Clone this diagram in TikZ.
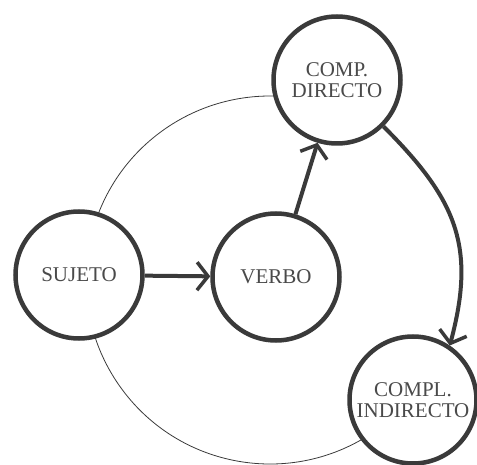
\documentclass[tikz,border=0pt]{standalone}
\usepackage{fontspec}
\setmainfont{Liberation Serif}
\usetikzlibrary{arrows.meta}
\definecolor{ink}{HTML}{3A3A3A}
\definecolor{txt}{HTML}{4A4A4A}
\begin{document}
\begin{tikzpicture}[x=1pt,y=-1pt,
  bubble/.style={circle, draw=ink, line width=4.5pt, fill=white, minimum size=127pt,
    inner sep=0pt, text=txt, font=\fontsize{21}{21}\selectfont, align=center},
  link/.style={draw=ink, line width=4pt, -{Straight Barb[length=11pt,width=28pt,line width=3.5pt]}},
  ring/.style={draw=ink, line width=0.8pt}]
\useasboundingbox (0,0) rectangle (477,465);
\coordinate (O) at (270,280);
\draw[ring] (O) ++(55:184) arc[start angle=55, end angle=280, radius=184];
\node[bubble] (S) at (79,275) {SUJETO};
\node[bubble] (V) at (276,277) {VERBO};
\node[bubble] (D) at (337,80) {COMP.\\DIRECTO};
\node[bubble] (I) at (413,400) {COMPL.\\INDIRECTO};
\draw[link] (S) -- (V);
\draw[link] (V) -- (D);
\draw[link] (D) to[out=-45, in=75, looseness=1.15] (I.56);
\end{tikzpicture}
\end{document}
